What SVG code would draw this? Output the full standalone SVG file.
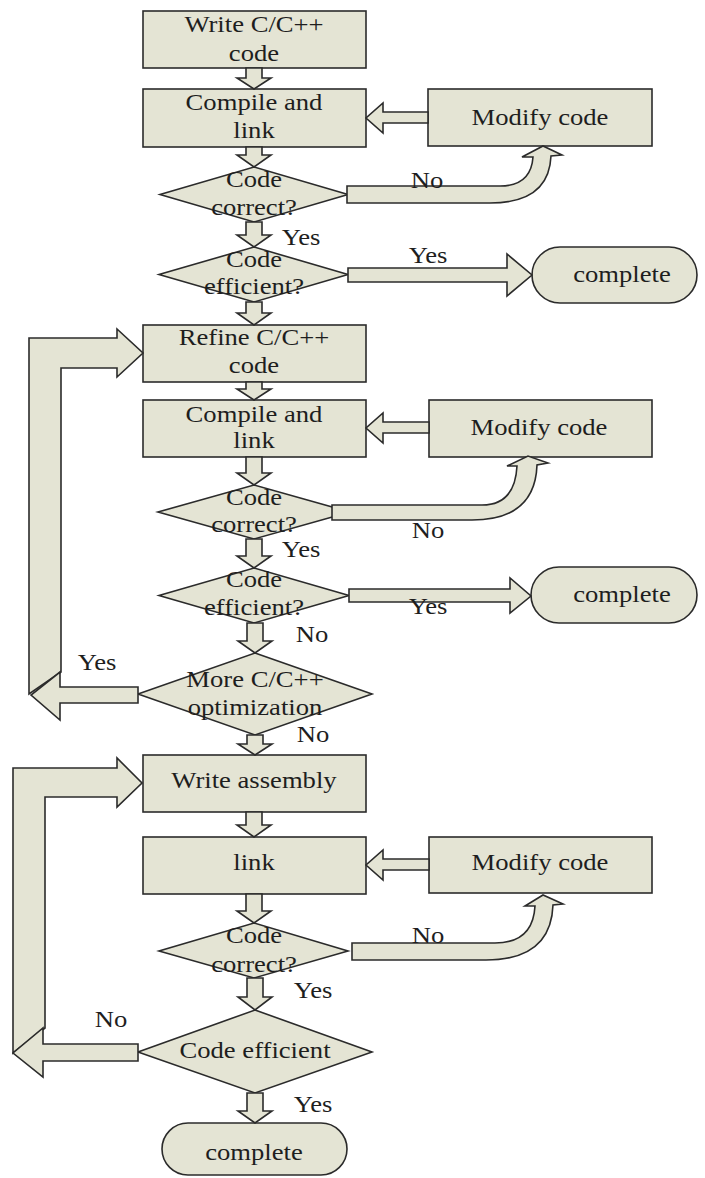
<svg xmlns="http://www.w3.org/2000/svg" width="705" height="1178" viewBox="0 0 705 1178">
<style>
.s{fill:#e4e4d4;stroke:#2b2b2b;stroke-width:1.6;stroke-linejoin:miter}
.c{fill:#e4e4d4;stroke:#2b2b2b;stroke-width:1.6;stroke-linejoin:miter}
text{font-family:"Liberation Serif","Times New Roman",serif;font-size:24px;fill:#1e1e1e;text-anchor:middle}
</style>
<rect width="705" height="1178" fill="#ffffff"/>

<g id="box1"><rect class="s" x="143" y="11" width="223" height="57"/>
<text transform="translate(254,32) scale(1.11,1)">Write C/C++</text>
<text transform="translate(254,61) scale(1.11,1)">code</text></g>

<g id="box2"><rect class="s" x="143" y="89" width="223" height="58"/>
<text transform="translate(254,110) scale(1.11,1)">Compile and</text>
<text transform="translate(254,138) scale(1.11,1)">link</text></g>

<g id="modify1"><rect class="s" x="428" y="89" width="224" height="57"/>
<text transform="translate(540,125) scale(1.11,1)">Modify code</text></g>

<g id="dec1"><polygon class="s" points="254,167 348,194.5 254,222 160,194.5"/>
<text transform="translate(254,187) scale(1.11,1)">Code</text>
<text transform="translate(254,215) scale(1.11,1)">correct?</text></g>

<g id="dec2"><polygon class="s" points="254,247 348,274.5 254,302 159,274.5"/>
<text transform="translate(254,267) scale(1.11,1)">Code</text>
<text transform="translate(254,294) scale(1.11,1)">efficient?</text></g>

<g id="complete1"><rect class="s" x="532" y="247" width="165" height="56" rx="28" ry="28"/>
<text transform="translate(622,282) scale(1.11,1)">complete</text></g>

<g id="box3"><rect class="s" x="143" y="325" width="223" height="57"/>
<text transform="translate(254,345) scale(1.11,1)">Refine C/C++</text>
<text transform="translate(254,373) scale(1.11,1)">code</text></g>

<g id="box4"><rect class="s" x="143" y="400" width="223" height="57"/>
<text transform="translate(254,422) scale(1.11,1)">Compile and</text>
<text transform="translate(254,448) scale(1.11,1)">link</text></g>

<g id="modify2"><rect class="s" x="429" y="400" width="223" height="57"/>
<text transform="translate(539,435) scale(1.11,1)">Modify code</text></g>

<g id="dec3"><polygon class="s" points="254,485 350,512 254,539 158,512"/>
<text transform="translate(254,505) scale(1.11,1)">Code</text>
<text transform="translate(254,532) scale(1.11,1)">correct?</text></g>

<g id="dec4"><polygon class="s" points="254,568 349,595.5 254,623 159,595.5"/>
<text transform="translate(254,587) scale(1.11,1)">Code</text>
<text transform="translate(254,615) scale(1.11,1)">efficient?</text></g>

<g id="complete2"><rect class="s" x="531" y="567" width="166" height="56" rx="28" ry="28"/>
<text transform="translate(622,602) scale(1.11,1)">complete</text></g>

<g id="dec5"><polygon class="s" points="255,653 372,694 255,735 138,694"/>
<text transform="translate(255,687) scale(1.11,1)">More C/C++</text>
<text transform="translate(255,715) scale(1.11,1)">optimization</text></g>

<g id="box5"><rect class="s" x="143" y="755" width="223" height="57"/>
<text transform="translate(254,788) scale(1.11,1)">Write assembly</text></g>

<g id="box6"><rect class="s" x="143" y="837" width="223" height="57"/>
<text transform="translate(254,870) scale(1.11,1)">link</text></g>

<g id="modify3"><rect class="s" x="429" y="837" width="223" height="56"/>
<text transform="translate(540,870) scale(1.11,1)">Modify code</text></g>

<g id="dec6"><polygon class="s" points="254,923 348,951 254,978 159,951"/>
<text transform="translate(254,943) scale(1.11,1)">Code</text>
<text transform="translate(254,972) scale(1.11,1)">correct?</text></g>

<g id="dec7"><polygon class="s" points="255,1010 372,1052 255,1093 138,1052"/>
<text transform="translate(255,1058) scale(1.11,1)">Code efficient</text></g>

<g id="complete3"><rect class="s" x="162" y="1123" width="185" height="52" rx="26" ry="26"/>
<text transform="translate(254,1160) scale(1.11,1)">complete</text></g>

<g id="connectors">
<!-- vertical block arrows -->
<polygon class="c" points="246,68 262,68 262,78 271,78 254,89 237,78 246,78"/>
<polygon class="c" points="246,147 262,147 262,155 271,155 254,167 237,155 246,155"/>
<polygon class="c" points="246,222 262,222 262,235 271,235 254,247 237,235 246,235"/>
<polygon class="c" points="246,302 262,302 262,313 271,313 254,325 237,313 246,313"/>
<polygon class="c" points="246,382 262,382 262,389 271,389 254,400 237,389 246,389"/>
<polygon class="c" points="246,457 262,457 262,473 271,473 254,485 237,473 246,473"/>
<polygon class="c" points="246,539 262,539 262,556 271,556 254,568 237,556 246,556"/>
<polygon class="c" points="247,623 263,623 263,641 272,641 255,653 238,641 247,641"/>
<polygon class="c" points="247,735 263,735 263,744 272,744 255,755 238,744 247,744"/>
<polygon class="c" points="246,812 262,812 262,825 271,825 254,837 237,825 246,825"/>
<polygon class="c" points="246,894 262,894 262,911 271,911 254,923 237,911 246,911"/>
<polygon class="c" points="247,978 263,978 263,997 272,997 255,1010 238,997 247,997"/>
<polygon class="c" points="247,1093 263,1093 263,1111 272,1111 255,1123 238,1111 247,1111"/>

<!-- modify -> compile -->
<polygon class="c" points="428,112 383,112 383,103 366,118 383,133 383,123 428,123"/>
<polygon class="c" points="429,422 383,422 383,413 366,428 383,443 383,433 429,433"/>
<polygon class="c" points="429,859 383,859 383,850 366,865 383,880 383,870 429,870"/>

<!-- No curved arrows to modify -->
<path class="c" d="M347,186 H500 Q531,186 533,157 L522,157 L543,146 L562,155 L551,156 Q549,203 490,203 H347 Z"/>
<path class="c" d="M332,505 H482 Q515,505 517,466 L507,466 L528,456 L548,463 L537,465 Q535,520 472,520 H332 Z"/>
<path class="c" d="M352,943 H495 Q533,943 535,906 L525,906 L543,895 L563,904 L553,905 Q551,960 486,960 H352 Z"/>

<!-- Yes arrows to complete -->
<polygon class="c" points="348,268 507,268 507,254 532,275 507,296 507,282 348,282"/>
<polygon class="c" points="349,589 510,589 510,578 531,596 510,613 510,602 349,602"/>

<!-- Yes loop to Refine -->
<polygon class="c" points="29,694 29,338 117,338 117,329 143,353 117,377 117,368 61,368 61,672"/>
<polygon class="c" points="138,687 60,687 60,672 31,695 60,720 60,703 138,703"/>

<!-- No loop to Write assembly -->
<polygon class="c" points="13,1053 13,768 117,768 117,758 142,783 117,807 117,797 45,797 45,1028"/>
<polygon class="c" points="138,1044 43,1044 43,1028 13,1053 43,1077 43,1061 138,1061"/>

<!-- labels -->
<text transform="translate(427,188) scale(1.11,1)">No</text>
<text transform="translate(301,245) scale(1.11,1)">Yes</text>
<text transform="translate(428,263) scale(1.11,1)">Yes</text>
<text transform="translate(428,538) scale(1.11,1)">No</text>
<text transform="translate(301,557) scale(1.11,1)">Yes</text>
<text transform="translate(428,614) scale(1.11,1)">Yes</text>
<text transform="translate(312,642) scale(1.11,1)">No</text>
<text transform="translate(97,670) scale(1.11,1)">Yes</text>
<text transform="translate(313,742) scale(1.11,1)">No</text>
<text transform="translate(428,943) scale(1.11,1)">No</text>
<text transform="translate(313,998) scale(1.11,1)">Yes</text>
<text transform="translate(111,1027) scale(1.11,1)">No</text>
<text transform="translate(313,1112) scale(1.11,1)">Yes</text>
</g>
</svg>
